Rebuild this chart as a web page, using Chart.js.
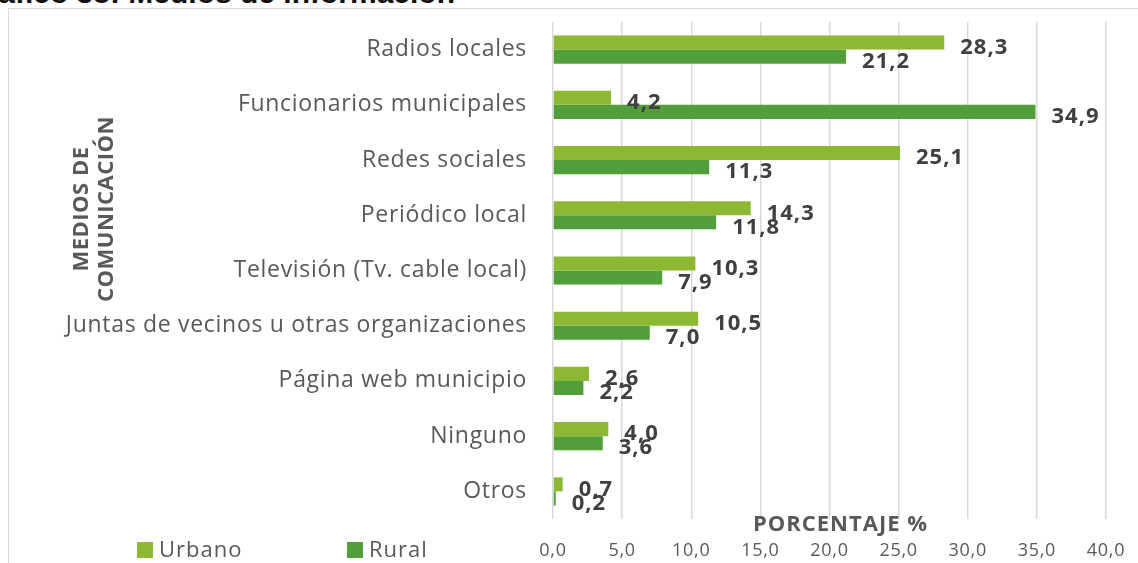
<!DOCTYPE html>
<html lang="es">
<head>
<meta charset="utf-8">
<title>Medios de información</title>
<script src="https://cdn.jsdelivr.net/npm/chart.js@4.4.1/dist/chart.umd.min.js"></script>
<style>
  html, body { margin: 0; padding: 0; background: #ffffff; overflow: hidden; }
  #wrap { position: relative; width: 1138px; height: 563px; overflow: hidden; }
  #frame { position: absolute; left: 8px; top: 8px; width: 1200px; height: 600px;
           border: 1.5px solid #d9d9d9; box-sizing: border-box; }
  #heading { position: absolute; right: 683px; top: -22px; white-space: nowrap;
             font: bold 30px "Liberation Sans", Arial, sans-serif; line-height: 30px; color: #111; }
  canvas { position: absolute; left: 0; top: 0; }
  #legend { position: absolute; left: 137px; top: 534px; font: 22px "Open Sans", sans-serif;
            letter-spacing: 1px; color: #595959; }
  #legend .item { position: absolute; top: 0; white-space: nowrap; line-height: 28px; }
  #legend .sw { display: inline-block; width: 16px; height: 16px; vertical-align: -1px; margin-right: 6px; }
</style>
</head>
<body>
<div id="wrap">
  <div id="frame"></div>
  <div id="heading">Gráfico 38: Medios de información</div>
  <canvas id="chart" width="1138" height="563"></canvas>
  <div id="legend"></div>
</div>
<script>
// Media categories, top to bottom
const categories = [
  'Radios locales',
  'Funcionarios municipales',
  'Redes sociales',
  'Periódico local',
  'Televisión (Tv. cable local)',
  'Juntas de vecinos u otras organizaciones',
  'Página web municipio',
  'Ninguno',
  'Otros'
];
// Percentages per area
const urbano = [28.3, 4.2, 25.1, 14.3, 10.3, 10.5, 2.6, 4.0, 0.7];
const rural  = [21.2, 34.9, 11.3, 11.8, 7.9, 7.0, 2.2, 3.6, 0.2];
// Axis ticks
const xTicks = [0, 5, 10, 15, 20, 25, 30, 35, 40];

const seriesNames = ['Urbano', 'Rural'];
const seriesColors = ['#8db833', '#529e3a'];

const fmt = v => v.toFixed(1).replace('.', ',');

// Slightly wider text spacing for the axis labels drawn by Chart.js
const textSpacing = {
  id: 'textSpacing',
  beforeDraw(chart) { chart.ctx.letterSpacing = '0.7px'; },
  afterDraw(chart) { chart.ctx.letterSpacing = '0px'; }
};

// Value labels to the right of each bar
const valueLabels = {
  id: 'valueLabels',
  afterDatasetsDraw(chart) {
    const ctx = chart.ctx;
    ctx.save();
    ctx.letterSpacing = '1px';
    ctx.font = 'bold 22px "Open Sans", sans-serif';
    ctx.fillStyle = '#404040';
    ctx.textAlign = 'left';
    ctx.textBaseline = 'middle';
    chart.data.datasets.forEach((ds, di) => {
      const meta = chart.getDatasetMeta(di);
      meta.data.forEach((bar, i) => {
        ctx.fillText(fmt(ds.data[i]), bar.x + 16, bar.y + 5);
      });
    });
    ctx.restore();
  }
};

// Axis titles
const axisTitles = {
  id: 'axisTitles',
  afterDraw(chart) {
    const ctx = chart.ctx;
    const area = chart.chartArea;
    ctx.save();
    ctx.letterSpacing = '1px';
    ctx.fillStyle = '#595959';
    ctx.font = 'bold 22px "Open Sans", sans-serif';
    ctx.textAlign = 'center';
    ctx.textBaseline = 'middle';
    ctx.fillText('PORCENTAJE %', (area.left + area.right) / 2 + 11, area.bottom + 6);

    ctx.letterSpacing = '0.5px';
    ctx.font = 'bold 22px "Open Sans", sans-serif';
    ctx.translate(94, 209);
    ctx.rotate(-Math.PI / 2);
    ctx.fillText('MEDIOS DE', 0, -12);
    ctx.fillText('COMUNICACIÓN', 0, 13);
    ctx.restore();
  }
};

const chart = new Chart(document.getElementById('chart'), {
  type: 'bar',
  data: {
    labels: categories,
    datasets: [
      { label: seriesNames[0], data: urbano, backgroundColor: seriesColors[0] },
      { label: seriesNames[1], data: rural, backgroundColor: seriesColors[1] }
    ]
  },
  options: {
    indexAxis: 'y',
    responsive: false,
    animation: false,
    devicePixelRatio: 1,
    categoryPercentage: 0.51,
    barPercentage: 1.0,
    layout: { padding: { top: 22, right: 32, left: 0, bottom: 0 } },
    plugins: {
      legend: { display: false },
      tooltip: { enabled: false },
      title: { display: false }
    },
    scales: {
      x: {
        min: 0,
        max: 40,
        afterBuildTicks(scale) { scale.ticks = xTicks.map(v => ({ value: v })); },
        afterFit(scale) {
          scale.height = 44;
          scale.paddingLeft = 0;
          scale.paddingRight = 0;
        },
        grid: { color: '#d9d9d9', lineWidth: 1.5, drawTicks: false },
        border: { display: false },
        ticks: {
          padding: 21,
          color: '#595959',
          font: { family: '"Open Sans", sans-serif', size: 18 },
          callback: v => fmt(v)
        }
      },
      y: {
        afterFit(scale) {
          scale.width = 553;
          scale.paddingTop = 0;
          scale.paddingBottom = 0;
        },
        grid: { display: false, drawTicks: false },
        border: { display: false },
        ticks: {
          padding: 26,
          color: '#595959',
          font: { family: '"Open Sans", sans-serif', size: 23 }
        }
      }
    }
  },
  plugins: [textSpacing, valueLabels, axisTitles]
});

// Legend
const legend = document.getElementById('legend');
const legendOffsets = [0, 210];
chart.data.datasets.forEach((ds, i) => {
  const item = document.createElement('div');
  item.className = 'item';
  item.style.left = legendOffsets[i] + 'px';
  const sw = document.createElement('span');
  sw.className = 'sw';
  sw.style.background = ds.backgroundColor;
  item.appendChild(sw);
  item.appendChild(document.createTextNode(ds.label));
  legend.appendChild(item);
});
</script>
</body>
</html>
